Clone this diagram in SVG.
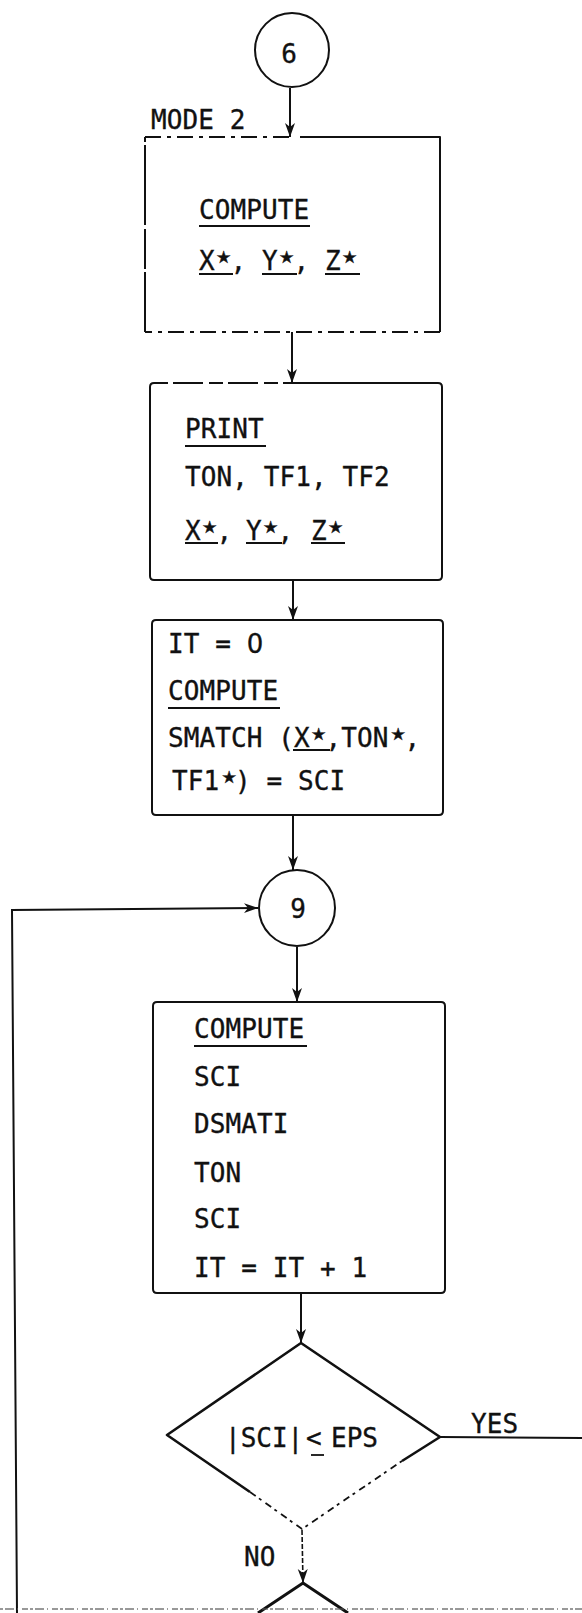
<svg xmlns="http://www.w3.org/2000/svg" width="582" height="1613" viewBox="0 0 582 1613">
<style>
.t{font-family:"DejaVu Sans Mono","Liberation Mono",monospace;font-size:26px;letter-spacing:0.1px;fill:#111;stroke:#111;stroke-width:0.35}
.st{font-family:"DejaVu Sans","DejaVu Sans Mono",sans-serif;font-size:17px;letter-spacing:0}
.b{fill:none;stroke:#111;stroke-width:2;stroke-linejoin:round}
.d{fill:none;stroke:#111;stroke-width:2;stroke-dasharray:16 6 4 6}
.u{stroke:#111;stroke-width:1.8}
.c{fill:none;stroke:#111;stroke-width:2;marker-end:url(#ah)}
.dm{fill:none;stroke:#111;stroke-width:2.6;stroke-linejoin:round}
</style>
<defs>
<marker id="ah" markerWidth="16" markerHeight="12" refX="14" refY="6" orient="auto" markerUnits="userSpaceOnUse">
<path d="M0,1 L14,6 L0,11 L4,6 Z" fill="#111"/>
</marker>
</defs>
<rect width="582" height="1613" fill="#fff"/>

<g id="connectors">
<line class="c" x1="290" y1="88" x2="290" y2="137"/>
<line class="c" x1="292" y1="332" x2="292" y2="383"/>
<line class="c" x1="293" y1="580" x2="293" y2="620"/>
<line class="c" x1="293" y1="815" x2="293" y2="870"/>
<line class="c" x1="297" y1="947" x2="297" y2="1002"/>
<line class="c" x1="301" y1="1293" x2="301" y2="1343"/>
<path class="c" d="M17,1613 L12,910 L258,908"/>
<line class="c" x1="302" y1="1530" x2="303" y2="1583" style="stroke-width:1.6;stroke-dasharray:5 2"/>
<line x1="440" y1="1437" x2="582" y2="1438" stroke="#111" stroke-width="2.2"/>
<text class="t" x="471" y="1433">YES</text>
<text class="t" x="244" y="1566">NO</text>
</g>

<g id="n6">
<circle cx="292" cy="50" r="37" class="b"/>
<text class="t" x="289" y="63" text-anchor="middle" style="letter-spacing:0">6</text>
</g>

<g id="mode2">
<text class="t" x="151" y="129">MODE 2</text>
<path class="d" d="M145,137 L290,137"/>
<path class="b" d="M300,137 L440,137 L440,332"/>
<path class="d" d="M440,332 L145,332"/>
<path class="b" d="M145,332 L145,137" style="stroke-dasharray:60 3 40 4 80 3"/>
<text class="t" x="199" y="219">COMPUTE</text>
<line class="u" x1="199" y1="226" x2="310" y2="226"/>
<text class="t" y="270"><tspan x="199">X</tspan><tspan class="st" x="216" y="263">★</tspan><tspan x="230.5" y="270">,</tspan><tspan x="262">Y</tspan><tspan class="st" x="279" y="263">★</tspan><tspan x="293.5" y="270">,</tspan><tspan x="325">Z</tspan><tspan class="st" x="342" y="263">★</tspan></text>
<line class="u" x1="199" y1="274" x2="233" y2="274"/>
<line class="u" x1="262" y1="274" x2="297" y2="274"/>
<line class="u" x1="325" y1="274" x2="360" y2="274"/>
</g>

<g id="print">
<path class="b" d="M154,383 L290,383" style="stroke-dasharray:14 5 30 6"/>
<path class="b" d="M290,383 L438,383 Q442,383 442,387 L442,576 Q442,580 438,580 L154,580 Q150,580 150,576 L150,387 Q150,383 154,383"/>
<text class="t" x="185" y="438">PRINT</text>
<line class="u" x1="185" y1="446" x2="266" y2="446"/>
<text class="t" x="185" y="486">TON, TF1, TF2</text>
<text class="t" y="540"><tspan x="185">X</tspan><tspan class="st" x="202" y="533">★</tspan><tspan x="216.5" y="540">,</tspan><tspan x="246">Y</tspan><tspan class="st" x="263" y="533">★</tspan><tspan x="277.5" y="540">,</tspan><tspan x="311">Z</tspan><tspan class="st" x="328" y="533">★</tspan></text>
<line class="u" x1="185" y1="543" x2="218" y2="543"/>
<line class="u" x1="246" y1="543" x2="282" y2="543"/>
<line class="u" x1="311" y1="543" x2="345" y2="543"/>
</g>

<g id="it0">
<path class="b" d="M156,620 L439,620 Q443,620 443,624 L443,811 Q443,815 439,815 L156,815 Q152,815 152,811 L152,624 Q152,620 156,620"/>
<text class="t" x="168" y="653">IT = <tspan style="font-family:'DejaVu Sans','Liberation Sans',sans-serif">0</tspan></text>
<text class="t" x="168" y="700">COMPUTE</text>
<line class="u" x1="168" y1="708" x2="280" y2="708"/>
<text class="t" y="747"><tspan x="168">SMATCH (X</tspan><tspan class="st" x="311" y="740">★</tspan><tspan x="325.5" y="747">,TON</tspan><tspan class="st" x="390.5" y="740">★</tspan><tspan x="404.5" y="747">,</tspan></text>
<line class="u" x1="293" y1="750" x2="330" y2="750"/>
<text class="t" y="790"><tspan x="172">TF1</tspan><tspan class="st" x="221.5" y="783">★</tspan><tspan x="235" y="790">) = SCI</tspan></text>
</g>

<g id="n9">
<circle cx="297" cy="908" r="38" class="b"/>
<text class="t" x="298" y="918" text-anchor="middle" style="letter-spacing:0">9</text>
</g>

<g id="compute">
<path class="b" d="M157,1002 L441,1002 Q445,1002 445,1006 L445,1289 Q445,1293 441,1293 L157,1293 Q153,1293 153,1289 L153,1006 Q153,1002 157,1002"/>
<text class="t" x="194" y="1038">COMPUTE</text>
<line class="u" x1="194" y1="1046" x2="307" y2="1046"/>
<text class="t" x="194" y="1086">SCI</text>
<text class="t" x="194" y="1133">DSMATI</text>
<text class="t" x="194" y="1182">TON</text>
<text class="t" x="194" y="1228">SCI</text>
<text class="t" x="194" y="1277">IT = IT + 1</text>
</g>

<g id="decision">
<path class="dm" d="M250,1492 L167,1435 L301,1343 L440,1437 L402,1461"/>
<path d="M250,1492 L302,1529 L402,1461" fill="none" stroke="#111" stroke-width="1.8" stroke-dasharray="7 4 3 5"/>
<text class="t" x="225" y="1447" style="letter-spacing:0">|SCI|</text>
<text class="t" x="306" y="1447" style="letter-spacing:0">&lt;</text>
<text class="t" x="331" y="1447" style="letter-spacing:0">EPS</text>
<line class="u" x1="311" y1="1455" x2="324" y2="1455"/>
</g>

<g id="decision2">
<path d="M258,1613 L303,1583 L348,1613" fill="none" stroke="#111" stroke-width="3"/>
</g>

<line x1="0" y1="1609" x2="582" y2="1609" stroke="#555" stroke-width="2" stroke-opacity="0.6" stroke-dasharray="3 2 9 3 1 4 6 2"/>
</svg>
